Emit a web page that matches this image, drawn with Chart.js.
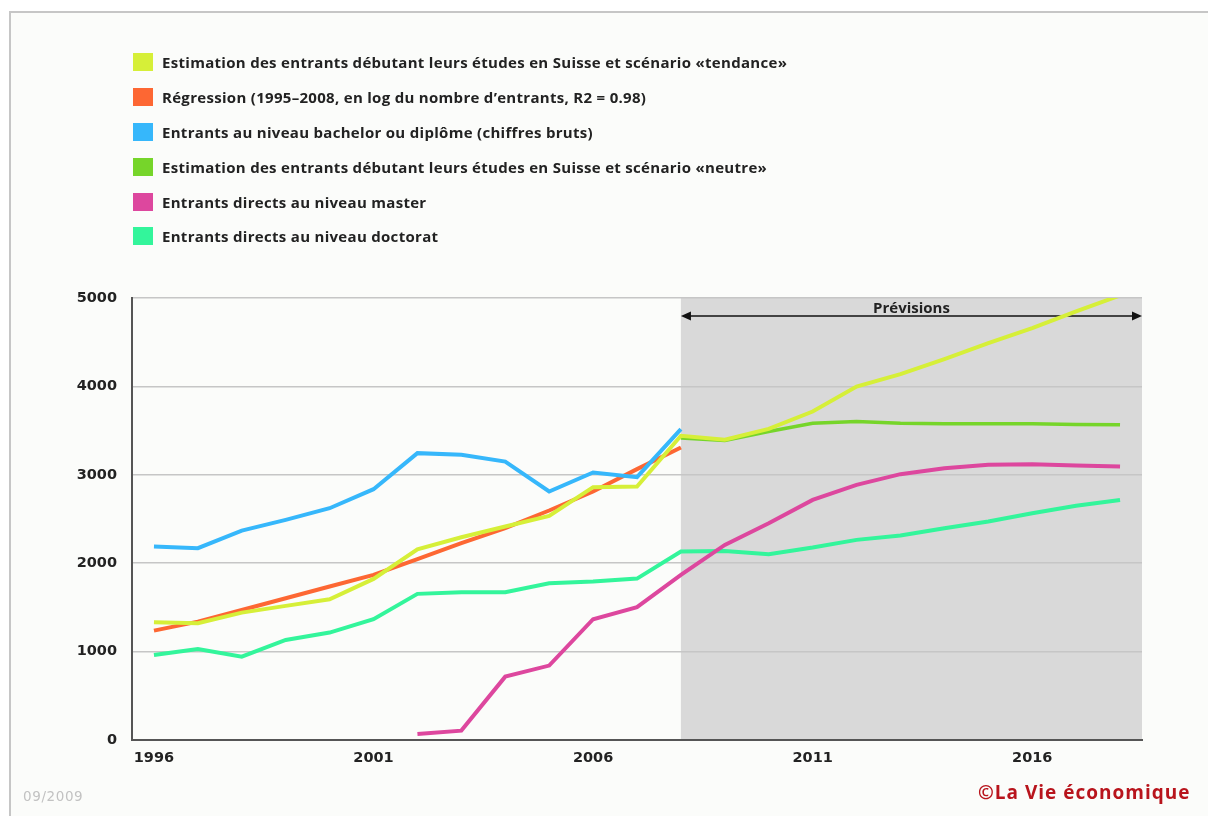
<!DOCTYPE html>
<html>
<head>
<meta charset="utf-8">
<script src="https://cdn.jsdelivr.net/npm/chart.js@4"></script>
<style>
  body { margin: 0; background: #fff; }
  #frame {
    position: absolute; left: 9px; top: 11px; width: 1199px; height: 805px;
    border-top: 2px solid #c6c6c6; border-left: 2px solid #c6c6c6;
    background: #fbfcfa; box-sizing: border-box;
  }
  #wrap { position: absolute; left: 0; top: 0; width: 1208px; height: 816px; }
  #legend { position: absolute; left: 133px; top: 45px; font: bold 15px "Open Sans", sans-serif; color: #222; letter-spacing: 0.3px; }
  .row { height: 34.8px; display: flex; align-items: center; }
  .sw { width: 20px; height: 18px; margin-right: 9px; }
  #date { position: absolute; left: 23px; top: 788px; font: 13.5px "DejaVu Sans", sans-serif; color: #c2c2c2; letter-spacing: 0.6px; }
  #copy { position: absolute; left: 978px; top: 779px; font: bold 19px "Open Sans", sans-serif; color: #b8141c; letter-spacing: 1px; }
</style>
</head>
<body>
<div id="frame"></div>
<div id="wrap"><canvas id="chart" width="1208" height="816"></canvas></div>
<div id="legend"></div>
<div id="date">09/2009</div>
<div id="copy">©La Vie économique</div>
<script>
// x axis categories
const years = ['1996','1997','1998','1999','2000','2001','2002','2003','2004','2005','2006','2007',
  '2008','2009','2010','2011','2012','2013','2014','2015','2016','2017','2018'];
const forecastStart = '2008';

// series values (null = no value)
const tendance = [1332, 1320, 1441, 1517, 1592, 1822, 2158, 2294, 2415, 2535, 2860, 2867,
  3441, 3396, 3520, 3716, 3999, 4139, 4309, 4490, 4660, 4848, 5029];
const regression = [1237, 1339, 1471, 1604, 1736, 1868, 2045, 2226, 2396, 2596, 2811, 3064,
  3309, null, null, null, null, null, null, null, null, null, null];
const bachelor = [2188, 2170, 2369, 2490, 2622, 2837, 3245, 3226, 3150, 2811, 3026, 2973,
  3516, null, null, null, null, null, null, null, null, null, null];
const neutre = [null, null, null, null, null, null, null, null, null, null, null, null,
  3415, 3388, 3490, 3584, 3603, 3584, 3577, 3577, 3577, 3569, 3565];
const master = [null, null, null, null, null, null, 68, 106, 717, 842, 1366, 1502,
  1868, 2207, 2452, 2716, 2886, 3007, 3075, 3113, 3120, 3105, 3094];
const doctorat = [962, 1030, 943, 1132, 1215, 1366, 1653, 1672, 1672, 1773, 1792, 1826,
  2132, 2139, 2102, 2177, 2264, 2313, 2396, 2471, 2566, 2649, 2716];

const seriesLabels = [
  'Estimation des entrants débutant leurs études en Suisse et scénario «tendance»',
  'Régression (1995–2008, en log du nombre d’entrants, R2 = 0.98)',
  'Entrants au niveau bachelor ou diplôme (chiffres bruts)',
  'Estimation des entrants débutant leurs études en Suisse et scénario «neutre»',
  'Entrants directs au niveau master',
  'Entrants directs au niveau doctorat'
];
const seriesData = [tendance, regression, bachelor, neutre, master, doctorat];
const colors = ['#d6ef38', '#fd6733', '#36b7fb', '#76d52a', '#dd479e', '#33f59b'];
const widths = [4, 4, 4, 3.5, 4, 4];
const drawOrder = [0, 2, 1, 3, 4, 5];

// html legend
const legend = document.getElementById('legend');
seriesLabels.forEach((lab, i) => {
  const row = document.createElement('div');
  row.className = 'row';
  row.innerHTML = '<div class="sw" style="background:' + colors[i] + '"></div><span>' + lab + '</span>';
  legend.appendChild(row);
});

// grey forecast zone + arrow
const forecastZone = {
  id: 'forecastZone',
  beforeDraw(chart) {
    const { ctx, chartArea, scales } = chart;
    const x0 = scales.x.getPixelForValue(years.indexOf(forecastStart));
    ctx.save();
    ctx.fillStyle = '#d9d9d9';
    ctx.fillRect(x0, chartArea.top, chartArea.right - x0, chartArea.bottom - chartArea.top);
    ctx.restore();
  },
  beforeDatasetsDraw(chart) {
    const { ctx, chartArea, scales } = chart;
    const x0 = scales.x.getPixelForValue(years.indexOf(forecastStart));
    const x1 = chartArea.right;
    const y = chartArea.top + 18;
    ctx.save();
    ctx.strokeStyle = '#111';
    ctx.fillStyle = '#111';
    ctx.lineWidth = 1.5;
    ctx.beginPath();
    ctx.moveTo(x0 + 6, y);
    ctx.lineTo(x1 - 6, y);
    ctx.stroke();
    ctx.beginPath();
    ctx.moveTo(x0, y); ctx.lineTo(x0 + 10, y - 4.5); ctx.lineTo(x0 + 10, y + 4.5); ctx.closePath();
    ctx.fill();
    ctx.beginPath();
    ctx.moveTo(x1, y); ctx.lineTo(x1 - 10, y - 4.5); ctx.lineTo(x1 - 10, y + 4.5); ctx.closePath();
    ctx.fill();
    ctx.font = 'bold 15px "Open Sans", sans-serif';
    ctx.fillStyle = '#222';
    ctx.textAlign = 'center';
    ctx.textBaseline = 'alphabetic';
    ctx.fillText('Prévisions', (x0 + x1) / 2, y - 3);
    ctx.restore();
  }
};

const tickFont = { family: '"DejaVu Sans", sans-serif', size: 14.5, weight: 'bold' };

new Chart(document.getElementById('chart'), {
  type: 'line',
  data: {
    labels: years,
    datasets: seriesData.map((d, i) => ({
      label: seriesLabels[i],
      data: d,
      borderColor: colors[i],
      backgroundColor: colors[i],
      borderWidth: widths[i],
      pointRadius: 0,
      tension: 0,
      fill: false,
      order: drawOrder[i]
    }))
  },
  options: {
    responsive: false,
    animation: false,
    layout: { padding: { left: 0, top: 298, right: 66, bottom: 46 } },
    plugins: { legend: { display: false }, tooltip: { enabled: false } },
    scales: {
      x: {
        offset: true,
        grid: { display: false, drawTicks: false },
        border: { color: '#555', width: 2 },
        afterFit(scale) { scale.height = 30; },
        ticks: {
          autoSkip: false, maxRotation: 0, padding: 10,
          color: '#222', font: tickFont,
          callback: (v, i) => (i % 5 === 0 ? years[i] : '')
        }
      },
      y: {
        min: 0, max: 5000,
        afterFit(scale) { scale.width = 132; },
        grid: { color: '#c6c6c6', lineWidth: 1.5, drawTicks: false },
        border: { color: '#555', width: 2 },
        ticks: { stepSize: 1000, padding: 15, color: '#222', font: tickFont, callback: (v) => String(v) }
      }
    }
  },
  plugins: [forecastZone]
});
</script>
</body>
</html>
